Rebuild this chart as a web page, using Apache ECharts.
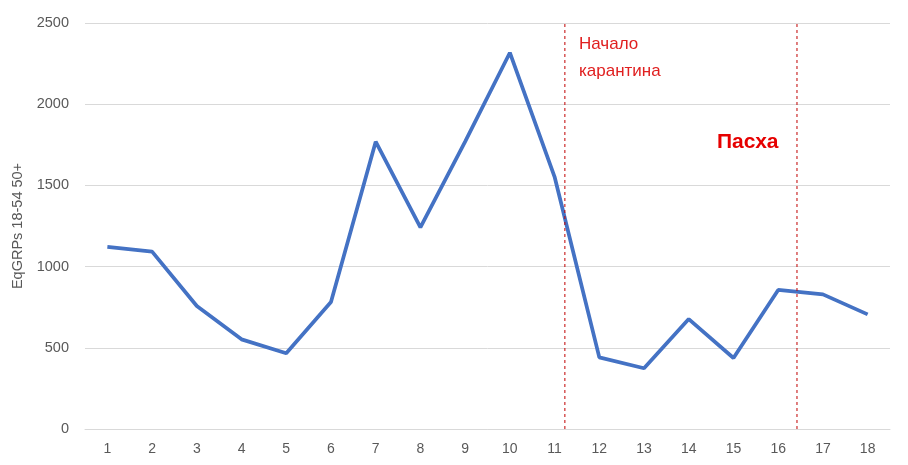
<!DOCTYPE html>
<html><head><meta charset="utf-8">
<script src="https://cdn.jsdelivr.net/npm/echarts@6/dist/echarts.min.js"></script>
<style>html,body{margin:0;padding:0;background:#fff}#c{width:908px;height:465px}</style>
</head><body><div id="c"></div>
<script>
var categories = ['1','2','3','4','5','6','7','8','9','10','11','12','13','14','15','16','17','18'];
var values = [1122, 1092, 757, 552, 466, 782, 1769, 1242, 1770, 2317, 1553, 441, 374, 677, 437, 856, 829, 706];
var yTicks = [0, 500, 1000, 1500, 2000, 2500];
var eventPositions = [10.23, 15.42]; // category-index positions of dashed lines
var yAxisTitle = 'EqGRPs 18-54 50+';
var note1 = 'Начало\nкарантина';
var note2 = 'Пасха';

var chart = echarts.init(document.getElementById('c'));
var font = '"Liberation Sans", Arial, sans-serif';
var yMin = yTicks[0], yMax = yTicks[yTicks.length - 1];
var eventSeries = eventPositions.map(function (p) {
  return {
    type: 'line', xAxisIndex: 1, data: [[p, yMin], [p, yMax]],
    symbol: 'none', showSymbol: false, silent: true,
    lineStyle: {color: '#C00000', type: [3, 3], width: 1},
    itemStyle: {color: '#C00000'}
  };
});
chart.setOption({
  animation: false,
  grid: {left: 85, right: 18, top: 23, bottom: 36},
  xAxis: [{
    type: 'category', data: categories, boundaryGap: true,
    axisLine: {show: true, lineStyle: {color: '#D9D9D9', width: 1}},
    axisTick: {show: false},
    axisLabel: {color: '#595959', fontSize: 14, fontFamily: font, margin: 13}
  }, {
    type: 'value', min: -0.5, max: 17.5, show: false
  }],
  yAxis: {
    type: 'value', min: yMin, max: yMax, interval: 500,
    name: yAxisTitle, nameLocation: 'middle', nameGap: 58, nameRotate: 90,
    nameTextStyle: {color: '#595959', fontSize: 14.5, fontFamily: font},
    axisLine: {show: false}, axisTick: {show: false},
    axisLabel: {color: '#595959', fontSize: 14.5, fontFamily: font, margin: 16,
      formatter: function (v) { return String(v); }},
    splitLine: {lineStyle: {color: '#D9D9D9', width: 1}}
  },
  series: [{
    type: 'line', data: values, xAxisIndex: 0, showSymbol: false, symbol: 'none',
    lineStyle: {color: '#4472C4', width: 3.75}, itemStyle: {color: '#4472C4'}
  }].concat(eventSeries),
  graphic: [{
    type: 'text', left: 579, top: 31,
    style: {text: note1, fill: '#E02020', font: '17px ' + font, lineHeight: 27}
  }, {
    type: 'text', left: 717, top: 132,
    style: {text: note2, fill: '#E60000', font: 'bold 21px ' + font}
  }]
});
</script></body></html>
